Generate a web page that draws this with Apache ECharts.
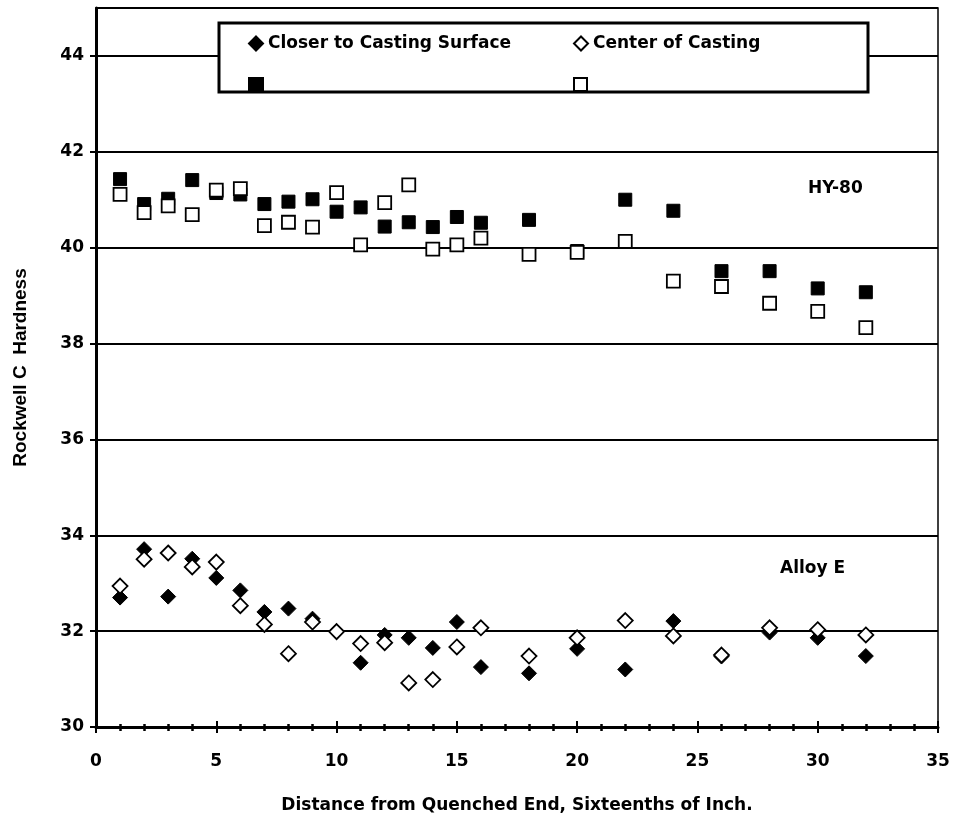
<!DOCTYPE html>
<html>
<head>
<meta charset="utf-8">
<script src="https://cdn.jsdelivr.net/npm/echarts@6/dist/echarts.min.js"></script>
<style>html,body{margin:0;padding:0;background:#fff;}#c{width:958px;height:823px;}</style>
</head>
<body>
<div id="c"></div>
<script>
const distances = [1,2,3,4,5,6,7,8,9,10,11,12,13,14,15,16,18,20,22,24,26,28,30,32];
const hyCloser = [41.43,40.91,41.02,41.41,41.14,41.11,40.91,40.96,41.01,40.75,40.84,40.44,40.53,40.43,40.64,40.52,40.58,39.93,41.00,40.77,39.51,39.51,39.15,39.07];
const hyCenter = [41.11,40.73,40.87,40.69,41.20,41.23,40.46,40.53,40.43,41.15,40.06,40.94,41.31,39.97,40.06,40.20,39.86,39.90,40.13,39.30,39.19,38.84,38.67,38.33];
const alloyCloser = [32.70,33.71,32.72,33.51,33.11,32.85,32.40,32.47,32.26,32.00,31.34,31.92,31.86,31.65,32.19,31.25,31.12,31.63,31.20,32.21,31.47,31.97,31.86,31.48];
const alloyCenter = [32.94,33.50,33.63,33.34,33.44,32.53,32.14,31.53,32.19,31.99,31.74,31.76,30.92,30.99,31.67,32.07,31.48,31.86,32.22,31.90,31.50,32.07,32.03,31.92];
const legendNames = ['Closer to Casting Surface', 'Center of Casting'];
const squareNames = ['HY-80 closer', 'HY-80 center'];

const pairs = ys => distances.map((x, i) => [x, ys[i]]);
const font = '"DejaVu Sans", sans-serif';
const fontY = '"Liberation Sans", Arial, sans-serif';
const filledStyle = {color: '#000', borderColor: '#000', borderWidth: 1, opacity: 1};
const openStyle = {color: '#fff', borderColor: '#000', borderWidth: 1.8, opacity: 1};

const chart = echarts.init(document.getElementById('c'), null, {renderer: 'canvas'});
const axisCommon = {type: 'value', min: 0, max: 35, interval: 5};
const labelText = {fontFamily: font, fontWeight: 'bold', fontSize: 17, color: '#000'};
chart.setOption({
  animation: false,
  backgroundColor: '#fff',
  grid: {left: 96, right: 20, top: 8, bottom: 96, show: true, borderColor: '#000', borderWidth: 1.5, backgroundColor: 'transparent'},
  xAxis: [
    Object.assign({}, axisCommon, {
      position: 'bottom',
      name: 'Distance from Quenched End, Sixteenths of Inch.',
      nameLocation: 'middle', nameGap: 70,
      nameTextStyle: labelText,
      axisLine: {show: true, onZero: false, lineStyle: {color: '#000', width: 3}},
      axisTick: {show: true, inside: false, length: 6, lineStyle: {color: '#000', width: 2}},
      minorTick: {show: true, splitNumber: 5, length: 4, lineStyle: {color: '#000', width: 2.5}},
      axisLabel: Object.assign({margin: 26}, labelText),
      splitLine: {show: false}
    }),
    Object.assign({}, axisCommon, {
      position: 'bottom',
      axisLine: {show: false, onZero: false},
      axisTick: {show: true, inside: true, length: 6, lineStyle: {color: '#000', width: 2}},
      minorTick: {show: true, splitNumber: 5, length: 3, lineStyle: {color: '#000', width: 2.5}},
      axisLabel: {show: false},
      splitLine: {show: false}
    })
  ],
  yAxis: [
    {
      type: 'value', min: 30, max: 45, interval: 2,
      name: 'Rockwell C  Hardness',
      nameLocation: 'middle', nameGap: 66, nameRotate: 90,
      nameTextStyle: {fontFamily: fontY, fontWeight: 'bold', fontSize: 19, color: '#000'},
      axisLine: {show: true, onZero: false, lineStyle: {color: '#000', width: 3}},
      axisTick: {show: true, inside: false, length: 6, lineStyle: {color: '#000', width: 2}},
      axisLabel: Object.assign({margin: 12, showMaxLabel: false}, labelText),
      splitLine: {show: true, lineStyle: {color: '#000', width: 2}}
    },
    {
      type: 'value', min: 30, max: 45, interval: 2, position: 'left',
      axisLine: {show: false, onZero: false},
      axisTick: {show: true, inside: true, length: 6, lineStyle: {color: '#000', width: 2}},
      axisLabel: {show: false},
      splitLine: {show: false}
    }
  ],
  legend: [
    {data: [{name: legendNames[0], icon: 'diamond'}], left: 248, top: 35, padding: 0, itemWidth: 14, itemHeight: 14, z: 10,
     textStyle: labelText, selectedMode: false},
    {data: [{name: legendNames[1], icon: 'diamond'}], left: 573, top: 35, padding: 0, itemWidth: 14, itemHeight: 14, z: 10,
     textStyle: labelText, selectedMode: false},
    {data: [{name: squareNames[0], icon: 'rect'}], left: 248, top: 77, padding: 0, itemWidth: 14, itemHeight: 13, z: 10,
     formatter: () => '', selectedMode: false},
    {data: [{name: squareNames[1], icon: 'rect'}], left: 573, top: 77, padding: 0, itemWidth: 13, itemHeight: 13, z: 10,
     formatter: () => '', selectedMode: false}
  ],
  graphic: [
    {type: 'rect', z: 5, shape: {x: 219, y: 23, width: 649, height: 69},
     style: {fill: '#fff', stroke: '#000', lineWidth: 3}},
    {type: 'text', z: 5, left: 808, top: 180,
     style: {text: 'HY-80', fontFamily: font, fontWeight: 'bold', fontSize: 17, fill: '#000'}},
    {type: 'text', z: 5, left: 780, top: 560,
     style: {text: 'Alloy E', fontFamily: font, fontWeight: 'bold', fontSize: 17, fill: '#000'}}
  ],
  series: [
    {name: squareNames[0], type: 'scatter', symbol: 'rect', symbolSize: 13, data: pairs(hyCloser), itemStyle: filledStyle, z: 3},
    {name: squareNames[1], type: 'scatter', symbol: 'rect', symbolSize: 13, data: pairs(hyCenter), itemStyle: openStyle, z: 4},
    {name: legendNames[0], type: 'scatter', symbol: 'diamond', symbolSize: 15, data: pairs(alloyCloser), itemStyle: filledStyle, z: 3},
    {name: legendNames[1], type: 'scatter', symbol: 'diamond', symbolSize: 15, data: pairs(alloyCenter), itemStyle: openStyle, z: 4}
  ]
});
</script>
</body>
</html>
